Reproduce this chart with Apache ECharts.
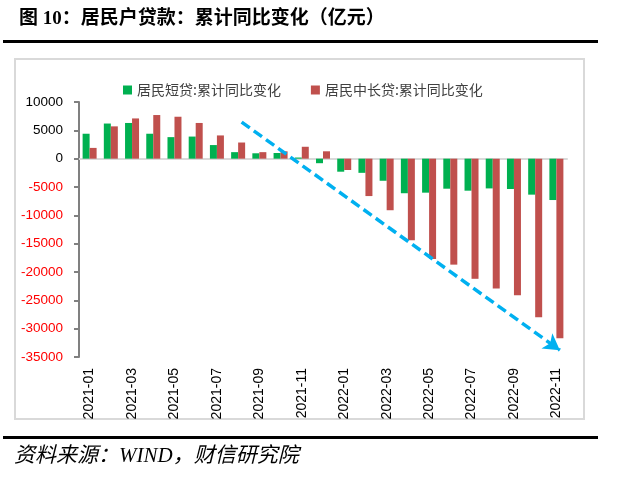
<!DOCTYPE html>
<html><head><meta charset="utf-8">
<script src="https://cdn.jsdelivr.net/npm/echarts@6/dist/echarts.min.js"></script>
<style>html,body{margin:0;padding:0;background:#fff}#c{width:625px;height:486px}</style>
</head><body><div id="c"></div>
<script>
const categories = ['2021-01','2021-02','2021-03','2021-04','2021-05','2021-06','2021-07','2021-08','2021-09','2021-10','2021-11','2021-12',
  '2022-01','2022-02','2022-03','2022-04','2022-05','2022-06','2022-07','2022-08','2022-09','2022-10','2022-11'];
const shortLoans = [4400, 6200, 6300, 4400, 3800, 3900, 2400, 1150, 950, 1000, 200, -800,
  -2300, -2500, -3900, -6100, -6000, -5300, -5650, -5250, -5350, -6350, -7300];
const longLoans = [1900, 5700, 7100, 7700, 7400, 6300, 4100, 2850, 1150, 1300, 2100, 1300,
  -2000, -6600, -9100, -14400, -17700, -18700, -21200, -22900, -24100, -28000, -31700];
const seriesNames = ['居民短贷:累计同比变化', '居民中长贷:累计同比变化'];
const trendStart = [7, 6450];
const trendEnd = [22.3, -33800];

const yBase = {
  type: 'value', min: -35000, max: 10000, interval: 5000, position: 'left', offset: 0,
  splitLine: {show: false}
};

const chart = echarts.init(document.getElementById('c'), null, {renderer: 'canvas'});
chart.setOption({
  animation: false,
  title: {
    text: '图 10：居民户贷款：累计同比变化（亿元）',
    left: 14, top: 5,
    textStyle: {fontFamily: 'Liberation Serif, Noto Sans CJK SC', fontWeight: 'bold', fontSize: 19, color: '#000'}
  },
  graphic: [
    {type: 'rect', shape: {x: 3, y: 40, width: 595, height: 3}, style: {fill: '#000'}},
    {type: 'rect', shape: {x: 15, y: 59, width: 569, height: 360}, style: {fill: 'none', stroke: '#d9d9d9', lineWidth: 2}},
    {type: 'rect', shape: {x: 3, y: 436, width: 595, height: 3}, style: {fill: '#000'}},
    {type: 'text', left: 14, top: 446, style: {text: '资料来源：WIND，财信研究院', font: 'italic 21px "Liberation Serif", "Noto Sans CJK SC"', fill: '#000'}}
  ],
  legend: {
    top: 78, left: 118, itemWidth: 9, itemHeight: 9, itemGap: 30,
    icon: 'rect',
    textStyle: {fontSize: 14, color: '#404040', fontFamily: 'Noto Sans CJK SC'},
    data: seriesNames
  },
  grid: {left: 79, right: 58, top: 102, bottom: 129, containLabel: false},
  xAxis: [{
    type: 'category', data: categories, position: 'bottom',
    axisLine: {show: false}, axisTick: {show: false},
    axisLabel: {rotate: 90, interval: 1, fontSize: 14, color: '#000', fontFamily: 'Liberation Sans', margin: 11}
  }, {
    type: 'category', data: categories,
    axisLine: {show: true, onZero: true, lineStyle: {color: '#d9d9d9', width: 2}},
    axisTick: {show: false}, axisLabel: {show: false}
  }],
  yAxis: [Object.assign({}, yBase, {
    axisLine: {show: true, onZero: false, lineStyle: {color: '#808080', width: 2}},
    axisTick: {show: true, length: 5, lineStyle: {color: '#808080', width: 2}},
    axisLabel: {fontSize: 13.5, fontFamily: 'Liberation Sans', margin: 16, color: '#000',
      formatter: function (v) { return v < 0 ? '' : String(v); }}
  }), Object.assign({}, yBase, {
    axisLine: {show: false, onZero: false}, axisTick: {show: false},
    axisLabel: {fontSize: 13.5, fontFamily: 'Liberation Sans', margin: 16, color: '#ff0000',
      formatter: function (v) { return v < 0 ? String(v) : ''; }}
  })],
  series: [{
    name: seriesNames[0], type: 'bar', data: shortLoans, barWidth: 7, barGap: '0%',
    itemStyle: {color: '#00b050'}
  }, {
    name: seriesNames[1], type: 'bar', data: longLoans, barWidth: 7,
    itemStyle: {color: '#c0504d'},
    markLine: {
      silent: true, symbol: ['none', 'arrow'], symbolSize: [14, 16],
      label: {show: false},
      lineStyle: {color: '#00b0f0', width: 3.5, type: [10, 5]},
      data: [[{coord: trendStart}, {coord: trendEnd}]]
    }
  }]
});
</script></body></html>
